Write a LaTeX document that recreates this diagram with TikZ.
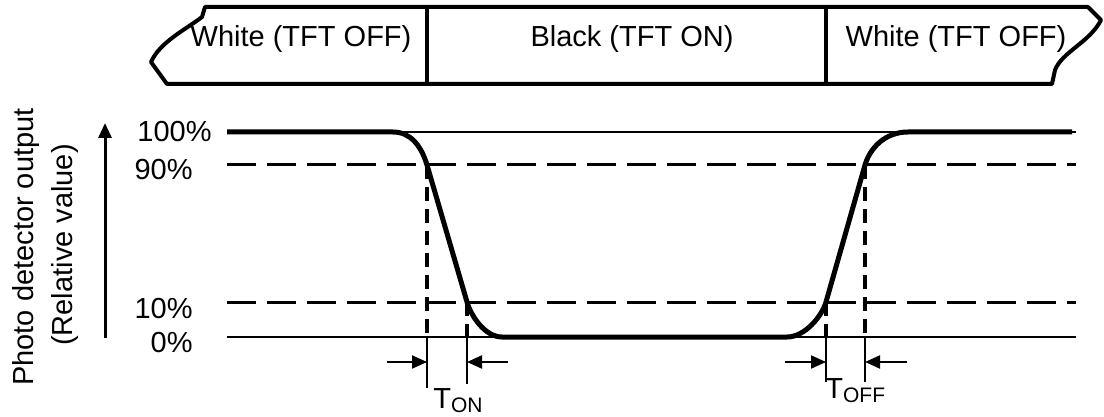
\documentclass[tikz,border=0pt]{standalone}
\usepackage{fontspec}
\setmainfont{Liberation Sans}
\usetikzlibrary{arrows.meta}

\begin{document}
\begin{tikzpicture}[x=0.5pt, y=-0.5pt,
    txt/.style={font=\fontsize{14.5}{17}\selectfont, inner sep=0pt},
    thinline/.style={line width=1pt},
    hdashed/.style={line width=1.5pt, dash pattern=on 14.5pt off 5.5pt},
    vdashed/.style={line width=2pt, dash pattern=on 7pt off 4pt},
    wave/.style={line width=2.5pt, line join=round},
    dimarrow/.style={line width=1pt, -{Triangle[length=7.5pt,width=6.5pt]}}]
  \useasboundingbox (0,0) rectangle (1104,417);

  % Torn band on top
  \draw[line width=2pt, line join=round] (205,7) -- (1088,7) -- (1101,20)
      .. controls (1090,42) and (1062,52) .. (1055,70) -- (1052,84) -- (167,84) -- (151,62)
      .. controls (160,42) and (185,30) .. (202,17) -- cycle;
  \draw[line width=1.6pt] (427,7) -- (427,84);
  \draw[line width=1.6pt] (826,7) -- (826,84);

  % Labels in the band
  \node[txt, anchor=base] (white1) at (301,47) {White (TFT OFF)};
  \node[txt, anchor=base] (black) at (632,47) {Black (TFT ON)};
  \node[txt, anchor=base] (white2) at (956,47) {White (TFT OFF)};

  % Axis title and arrow
  \node[txt, rotate=90, anchor=base] (ytitle) at (33,247) {Photo detector output};
  \node[txt, rotate=90, anchor=base] (yunit) at (72,245) {(Relative value)};
  \coordinate (axbot) at (105,338);
  \coordinate (axtop) at (105,123);
  \draw[line width=1.5pt, -{Triangle[length=7.5pt,width=6.5pt]}] (axbot) -- (axtop);

  % Level labels
  \node[txt, anchor=base east] (p100) at (212,142) {100\%};
  \node[txt, anchor=base east] (p90) at (193,180) {90\%};
  \node[txt, anchor=base east] (p10) at (193,318) {10\%};
  \node[txt, anchor=base east] (p0) at (193,352) {0\%};

  % Level lines
  \draw[thinline] (227,132) -- (1076,132);
  \draw[thinline] (227,337) -- (1076,337);
  \draw[hdashed] (227,165) -- (1076,165);
  \draw[hdashed] (227,302) -- (1076,302);

  % Photo detector output
  \draw[wave] (227,132) -- (393,132) .. controls (410,132) and (421,145) .. (427,165)
      -- (467,302) .. controls (471,316) and (485,337) .. (502,337)
      -- (787,337) .. controls (805,337) and (822,316) .. (826,302)
      -- (865,165) .. controls (870,148) and (885,132) .. (908,132) -- (1072,132);

  % Switching markers
  \draw[vdashed] (427,165) -- (427,337);
  \draw[vdashed] (467,302) -- (467,337);
  \draw[vdashed] (826,302) -- (826,337);
  \draw[vdashed] (865,165) -- (865,337);
  \draw[thinline] (427,337) -- (427,388);
  \draw[thinline] (467,337) -- (467,384);
  \draw[thinline] (826,337) -- (826,382);
  \draw[thinline] (865,337) -- (865,382);

  % Response time arrows
  \coordinate (onL) at (387,362);
  \coordinate (onA) at (427,362);
  \coordinate (onB) at (467,362);
  \coordinate (onR) at (508,362);
  \coordinate (offL) at (785,362);
  \coordinate (offA) at (826,362);
  \coordinate (offB) at (865,362);
  \coordinate (offR) at (907,362);
  \draw[dimarrow] (onL) -- (onA);
  \draw[dimarrow] (onR) -- (onB);
  \draw[dimarrow] (offL) -- (offA);
  \draw[dimarrow] (offR) -- (offB);

  \node[txt, anchor=base west] (ton) at (433,408) {T\raisebox{-2pt}{\fontsize{10.5}{12}\selectfont ON}};
  \node[txt, anchor=base west] (toff) at (825,398) {T\raisebox{-2pt}{\fontsize{10.5}{12}\selectfont OFF}};
\end{tikzpicture}
\end{document}
